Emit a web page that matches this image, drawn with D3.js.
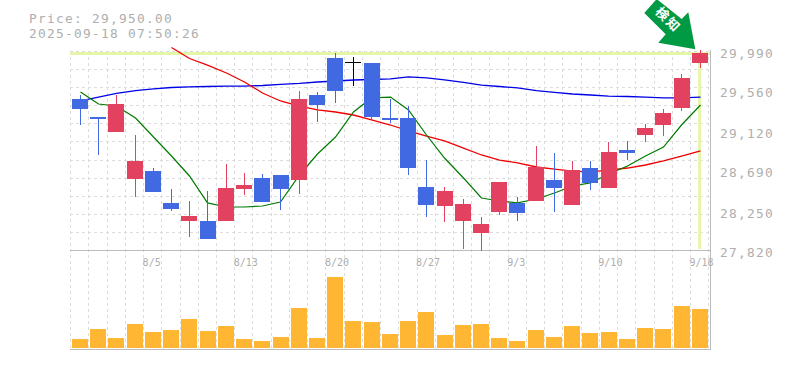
<!DOCTYPE html>
<html lang="en">

<head>
    <meta charset="UTF-8">
    <title>Price chart</title>
    <script src="https://d3js.org/d3.v7.min.js"></script>
    <style>
        html, body { margin: 0; padding: 0; background: #fff; overflow: hidden; }
        svg { display: block; }
        text { font-family: 'DejaVu Sans Mono', monospace; fill: #aeaeae; }
        .big { font-size: 12.8px; letter-spacing: 1.3px; }
        .small { font-size: 10px; }
    </style>
</head>

<body>
    <svg id="chart" width="785" height="370"></svg>

    <script>
        var dates = ["7/30","7/31","8/1","8/4","8/5","8/6","8/7","8/8","8/12","8/13","8/14","8/15","8/18","8/19","8/20","8/21","8/22","8/25","8/26","8/27","8/28","8/29","9/1","9/2","9/3","9/4","9/5","9/8","9/9","9/10","9/11","9/12","9/16","9/17","9/18"];
        var opens = [29467,29270,29107,28594,28681,28333,28136,28136,28136,28485,28605,28638,28583,29510,29914,29870,29859,29259,29259,28507,28300,28136,28005,28234,28333,28354,28583,28311,28714,28496,28911,29074,29183,29369,29859];
        var highs = [29510,29270,29510,29074,28714,28485,28354,28463,28758,28660,28649,28638,29554,29543,29968,29925,29859,29467,29390,28801,28507,28376,28180,28562,28398,28954,28878,28791,28791,28998,29009,29194,29358,29739,30001];
        var lows = [29183,28856,29107,28398,28452,28245,27962,27940,28136,28420,28343,28256,28431,29216,29423,29608,29249,29205,28638,28180,28125,27831,27809,28202,28136,28354,28234,28311,28474,28496,28801,28998,29063,29336,29805];
        var closes = [29358,29249,29412,28791,28452,28267,28191,27940,28496,28529,28343,28485,29467,29401,29554,29870,29270,29238,28714,28311,28463,28322,28104,28562,28223,28725,28496,28692,28551,28889,28878,29150,29314,29696,29968];
        var volumes = [27,57,30,72,48,54,87,51,66,27,21,33,120,30,213,81,78,42,81,108,39,69,72,30,21,54,33,66,45,48,27,60,57,126,117];
        var maLong = [29445,29488,29527,29559,29576,29592,29598,29603,29608,29608,29614,29625,29636,29652,29663,29674,29679,29685,29707,29696,29674,29647,29619,29603,29587,29559,29538,29521,29510,29499,29494,29488,29478,29478,29488];
        var maShort = [29543,29412,29390,29259,29052,28845,28627,28333,28289,28289,28300,28343,28638,28867,29052,29325,29478,29488,29347,29074,28823,28605,28387,28354,28333,28376,28442,28518,28551,28649,28736,28845,28943,29183,29401];
        var maMid = [null,null,null,null,null,30028,29908,29837,29750,29652,29532,29445,29390,29347,29325,29292,29238,29183,29118,29063,29009,28932,28856,28801,28769,28725,28703,28681,28671,28692,28714,28747,28791,28845,28900];
        var priceLabels = [29990,29560,29120,28690,28250,27820];
        var dateLabels = ["8/5","8/13","8/20","8/27","9/3","9/10","9/18"];
        var currentPrice = 29950;
        var stamp = "2025-09-18 07:50:26";

        var red = "#e2425f", blue = "#4169e1", orange = "#ffb733";
        var gridColor = "#dcdcdc", axisColor = "#bbb", marker = "#e6f6a8";

        var svg = d3.select("#chart");

        var x = d3.scaleBand().domain(d3.range(dates.length)).range([70.7, 708.7]);
        var y = d3.scaleLinear().domain([27820, 29990]).range([250, 51]);
        var yVol = d3.scaleLinear().domain([0, d3.max(volumes)]).range([348, 277]);

        var cx = function (i) { return Math.round(x(i) + x.bandwidth() / 2) + 0.5 };
        var left = function (i) { return Math.round(x(i) + 1.3) };

        // grid
        var grid = svg.append("g")
            .attr("stroke", gridColor)
            .attr("stroke-dasharray", "3,3");

        grid.selectAll("line.h")
            .data(d3.range(0, 11))
            .enter()
            .append("line")
            .attr("x1", 70)
            .attr("x2", 710)
            .attr("y1", function (d) { return Math.round(51 + d * 199 / 11) + 0.5 })
            .attr("y2", function (d) { return Math.round(51 + d * 199 / 11) + 0.5 });

        grid.selectAll("line.v")
            .data(d3.range(dates.length + 1))
            .enter()
            .append("line")
            .attr("x1", function (d) { return Math.floor(70.7 + d * x.step()) + 0.5 })
            .attr("x2", function (d) { return Math.floor(70.7 + d * x.step()) + 0.5 })
            .attr("y1", 51)
            .attr("y2", 349);

        // axis frame
        var frame = svg.append("g").attr("stroke", axisColor);
        frame.append("line").attr("x1", 70).attr("x2", 711).attr("y1", 250.5).attr("y2", 250.5);
        frame.append("line").attr("x1", 70).attr("x2", 711).attr("y1", 349.5).attr("y2", 349.5);
        frame.append("line").attr("x1", 710.5).attr("x2", 710.5).attr("y1", 50).attr("y2", 350);

        // current price marker
        svg.append("rect")
            .attr("x", 70).attr("y", 52).attr("width", 640).attr("height", 3)
            .attr("fill", marker);
        svg.append("rect")
            .attr("x", x(34) + x.bandwidth() / 2 - 1.5).attr("y", 52).attr("width", 3).attr("height", 197)
            .attr("fill", marker);

        // volume
        svg.append("g").selectAll("rect")
            .data(volumes)
            .enter()
            .append("rect")
            .attr("x", function (d, i) { return left(i) })
            .attr("width", 16)
            .attr("y", function (d) { return Math.round(yVol(d)) })
            .attr("height", function (d) { return 348 - Math.round(yVol(d)) })
            .attr("fill", orange);

        // moving averages
        var line = d3.line()
            .defined(function (d) { return d != null })
            .x(function (d, i) { return cx(i) })
            .y(function (d) { return y(d) });

        svg.append("path").attr("d", line(maLong)).attr("fill", "none").attr("stroke", "#0000e6").attr("stroke-width", 1.3);
        svg.append("path").attr("d", line(maMid)).attr("fill", "none").attr("stroke", "#f00000").attr("stroke-width", 1.3);
        svg.append("path").attr("d", line(maShort)).attr("fill", "none").attr("stroke", "#007a00").attr("stroke-width", 1.2);

        // candles
        function candleColor(i) {
            if (opens[i] === closes[i]) return "#000";
            return closes[i] > opens[i] ? red : blue;
        }

        var candles = svg.append("g");

        candles.selectAll("line")
            .data(dates)
            .enter()
            .append("line")
            .attr("x1", function (d, i) { return cx(i) })
            .attr("x2", function (d, i) { return cx(i) })
            .attr("y1", function (d, i) { return Math.round(y(highs[i])) })
            .attr("y2", function (d, i) { return Math.round(y(lows[i])) })
            .attr("stroke", function (d, i) { return candleColor(i) });

        candles.selectAll("rect")
            .data(dates)
            .enter()
            .append("rect")
            .attr("x", function (d, i) { return left(i) })
            .attr("width", 16)
            .attr("y", function (d, i) { return Math.round(y(Math.max(opens[i], closes[i]))) })
            .attr("height", function (d, i) {
                return Math.max(1, Math.round(y(Math.min(opens[i], closes[i]))) - Math.round(y(Math.max(opens[i], closes[i]))));
            })
            .attr("fill", function (d, i) { return candleColor(i) });

        // labels
        svg.append("g").selectAll("text")
            .data(priceLabels)
            .enter()
            .append("text")
            .attr("class", "big")
            .attr("x", 720)
            .attr("y", function (d) { return y(d) + 7 })
            .text(d3.format(","));

        svg.append("g").selectAll("text")
            .data(dateLabels)
            .enter()
            .append("text")
            .attr("class", "small")
            .attr("x", function (d) { return x(dates.indexOf(d)) - 1 })
            .attr("y", 266)
            .text(function (d) { return d });

        svg.append("text").attr("class", "big").attr("x", 29).attr("y", 23)
            .text("Price: " + d3.format(",.2f")(currentPrice));
        svg.append("text").attr("class", "big").attr("x", 29).attr("y", 38)
            .text(stamp);

        // arrow badge
        var badge = svg.append("g");
        badge.append("path")
            .attr("d", "M644.3,13 L656.7,-1 L681.7,19 L688.3,12.3 L695.3,49.3 L658.3,42.7 L665.7,34.3 Z")
            .attr("fill", "#009944");
        badge.append("text")
            .attr("transform", "translate(667.5,20.5) rotate(45)")
            .attr("text-anchor", "middle")
            .attr("dominant-baseline", "middle")
            .style("font-family", "'Noto Sans CJK JP'")
            .style("font-weight", "700")
            .style("fill", "#fff")
            .style("letter-spacing", "2px")
            .attr("font-size", "13px")
            .text("検知");
    </script>
</body>

</html>
